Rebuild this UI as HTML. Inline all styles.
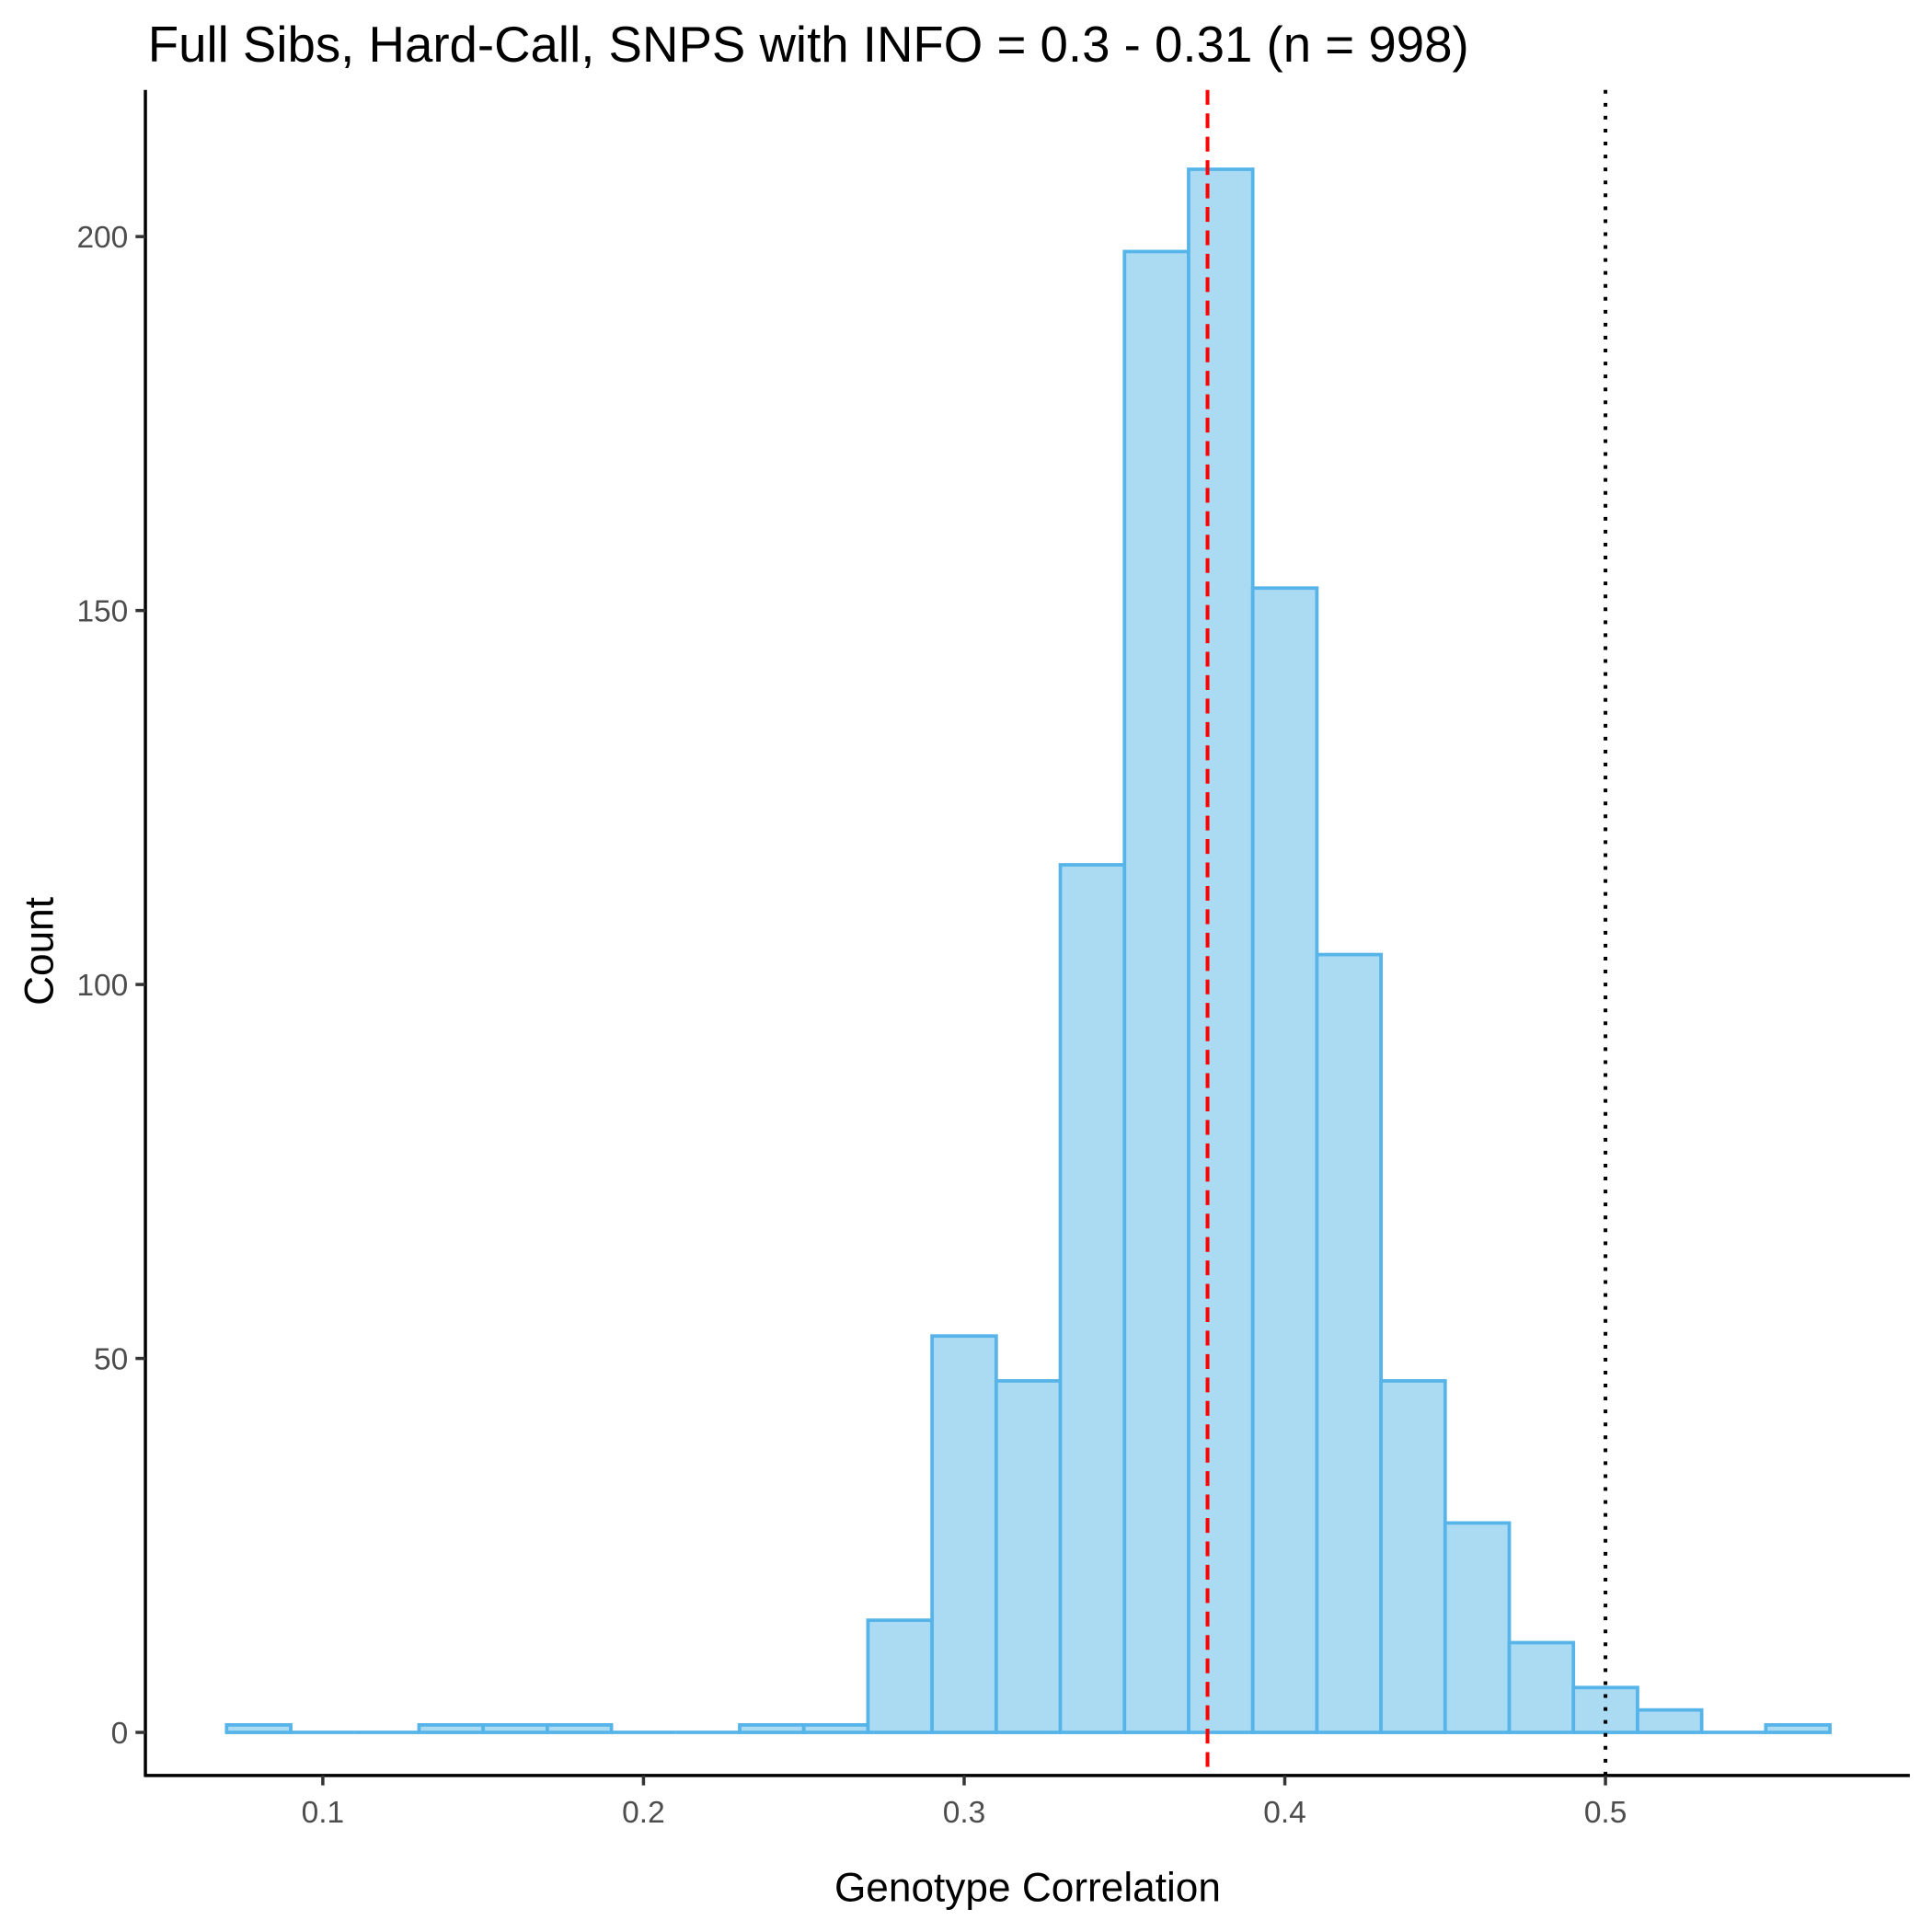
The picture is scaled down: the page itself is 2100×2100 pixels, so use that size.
<!DOCTYPE html>
<html><head><meta charset="utf-8"><style>
html,body{margin:0;padding:0;background:#fff;}
svg{display:block;font-family:"Liberation Sans",Arial,sans-serif;}
</style></head><body>
<svg id="chart" width="2100" height="2100" viewBox="0 0 1568 1568" xmlns="http://www.w3.org/2000/svg">
<rect width="1568" height="1568" fill="#fff"/>
<text x="120" y="50" font-size="40.8" fill="#000">Full Sibs, Hard-Call, SNPS with INFO = 0.3 - 0.31 (n = 998)</text>
<g id="bars"></g>
<g id="axes"></g>
<text x="834" y="1543" font-size="33" text-anchor="middle" fill="#000">Genotype Correlation</text>
<text transform="translate(43,772) rotate(-90)" font-size="33" text-anchor="middle" fill="#000">Count</text>
</svg>
<script>
const binStarts = [0.07,0.09,0.11,0.13,0.15,0.17,0.19,0.21,0.23,0.25,0.27,0.29,0.31,0.33,0.35,0.37,0.39,0.41,0.43,0.45,0.47,0.49,0.51,0.53,0.55];
const counts = [1,0,0,1,1,1,0,0,1,1,15,53,47,116,198,209,153,104,47,28,12,6,3,0,1];
const binWidth = 0.02;
const xTicks = [0.1,0.2,0.3,0.4,0.5];
const xTickLabels = ["0.1","0.2","0.3","0.4","0.5"];
const yTicks = [0,50,100,150,200];
const meanLine = 0.3759;
const refLine = 0.5;

const NS = "http://www.w3.org/2000/svg";
function xs(v){ return 262 + (v - 0.1) * 2602.5; }
function ys(v){ return 1406 - v * 6.07; }
function mk(tag, attrs, parent){
  const el = document.createElementNS(NS, tag);
  for (const k in attrs) el.setAttribute(k, attrs[k]);
  parent.appendChild(el);
  return el;
}
const bars = document.getElementById('bars');
binStarts.forEach((b, i) => {
  const x0 = xs(b), x1 = xs(b + binWidth), y = ys(counts[i]);
  if (counts[i] > 0) {
    const r = mk('rect', {x: x0, y: y, width: x1 - x0, height: ys(0) - y, fill: '#ABDAF3', stroke: '#56B4E9', 'stroke-width': 2.8}, bars);
    
    
  } else {
    const l = mk('line', {x1: x0, x2: x1, y1: y, y2: y, stroke: '#56B4E9', 'stroke-width': 2.8}, bars);
    
    
  }
});
const axes = document.getElementById('axes');
const ml = mk('line', {x1: xs(meanLine), x2: xs(meanLine), y1: 73, y2: 1441, stroke: '#ff0000', 'stroke-width': 3, 'stroke-dasharray': '12 7'}, axes);


const rl = mk('line', {x1: xs(refLine), x2: xs(refLine), y1: 73, y2: 1441, stroke: '#000', 'stroke-width': 3, 'stroke-dasharray': '3 7.5'}, axes);


const xa = mk('line', {x1: 117, x2: 1550, y1: 1441, y2: 1441, stroke: '#000', 'stroke-width': 2.6}, axes);


const ya = mk('line', {x1: 118, x2: 118, y1: 73, y2: 1442, stroke: '#000', 'stroke-width': 2.6}, axes);


xTicks.forEach((t, i) => {
  const tk = mk('line', {x1: xs(t), x2: xs(t), y1: 1441, y2: 1449, stroke: '#333', 'stroke-width': 2.6}, axes);
  
  
  const lb = mk('text', {x: xs(t), y: 1479, 'font-size': 25, fill: '#4d4d4d', 'text-anchor': 'middle'}, axes);
  lb.textContent = xTickLabels[i];
  
  
});
yTicks.forEach(t => {
  const tk = mk('line', {x1: 110, x2: 118, y1: ys(t), y2: ys(t), stroke: '#333', 'stroke-width': 2.6}, axes);
  
  
  const lb = mk('text', {x: 104, y: ys(t) + 9, 'font-size': 25, fill: '#4d4d4d', 'text-anchor': 'end'}, axes);
  lb.textContent = String(t);
  
  
});
</script>
</body></html>
